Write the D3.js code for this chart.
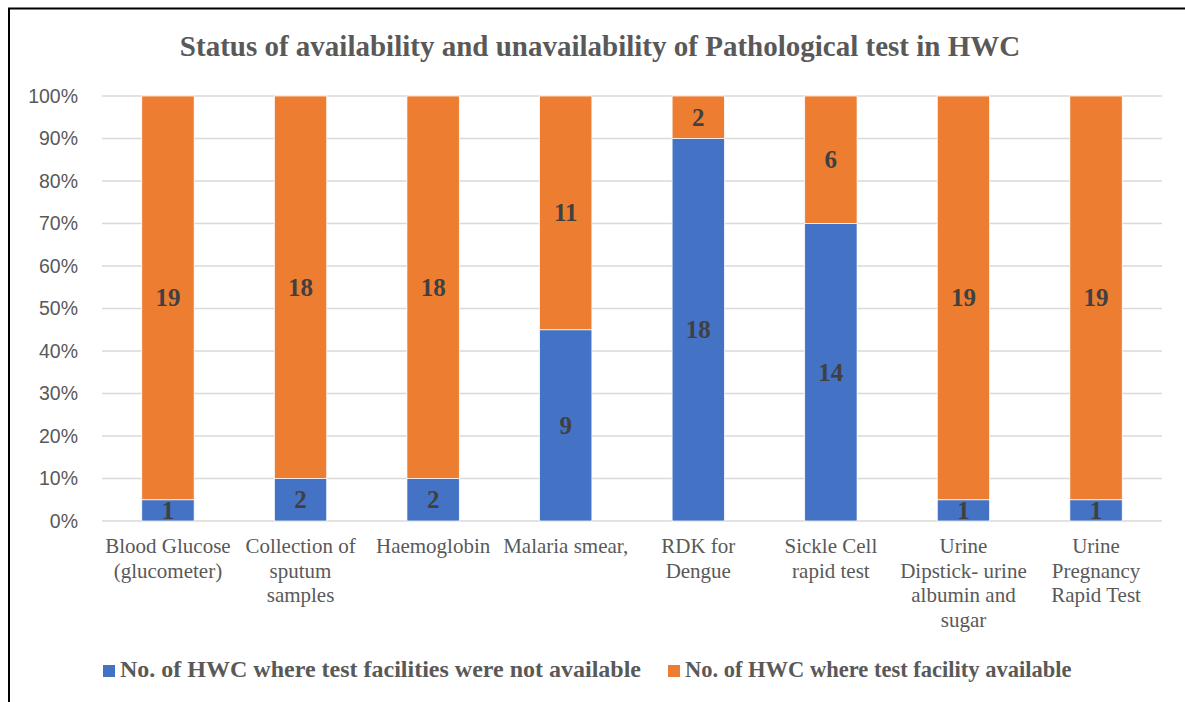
<!DOCTYPE html>
<html>
<head>
<meta charset="utf-8">
<script src="https://cdn.jsdelivr.net/npm/d3@7"></script>
<style>
  body { margin: 0; background: #fff; }
</style>
</head>
<body>
<svg width="1185" height="702"></svg>
<script>
// données
const categories = [
  ["Blood Glucose", "(glucometer)"],
  ["Collection of", "sputum", "samples"],
  ["Haemoglobin"],
  ["Malaria smear,"],
  ["RDK for", "Dengue"],
  ["Sickle Cell", "rapid test"],
  ["Urine", "Dipstick- urine", "albumin and", "sugar"],
  ["Urine", "Pregnancy", "Rapid Test"]
];
const notAvailable = [1, 2, 2, 9, 18, 14, 1, 1];
const available = [19, 18, 18, 11, 2, 6, 19, 19];
const seriesNames = [
  "No. of HWC where test facilities were not available",
  "No. of HWC where test facility available"
];
const colors = ["#4472C4", "#ED7D31"];
const yTicks = [0, 0.1, 0.2, 0.3, 0.4, 0.5, 0.6, 0.7, 0.8, 0.9, 1];

const serif = "'Liberation Serif', 'Times New Roman', serif";
const sans = "'Liberation Sans', Arial, sans-serif";

const svg = d3.select("svg");

// cadre
svg.append("path")
  .attr("d", "M9,702 V8.5 H1185")
  .attr("fill", "none")
  .attr("stroke", "#000")
  .attr("stroke-width", 2);

const plotLeft = 102, plotRight = 1162, plotTop = 96, plotBottom = 521;

const x = d3.scaleBand().domain(d3.range(categories.length)).range([plotLeft, plotRight])
  .paddingInner(0.605).paddingOuter(0.3);
const y = d3.scaleLinear().domain([0, 1]).range([plotBottom, plotTop]);

svg.append("text")
  .attr("x", 600).attr("y", 56)
  .attr("text-anchor", "middle")
  .attr("font-family", serif)
  .attr("font-weight", "bold")
  .attr("font-size", 29)
  .attr("fill", "#595959")
  .text("Status of availability and unavailability of Pathological test in HWC");

// grille
svg.append("g").selectAll("line").data(yTicks).enter().append("line")
  .attr("x1", plotLeft).attr("x2", plotRight)
  .attr("y1", (d) => y(d)).attr("y2", (d) => y(d))
  .attr("stroke", "#d9d9d9").attr("stroke-width", 1.5);

const yAxis = d3.axisLeft(y).tickValues(yTicks).tickFormat(d3.format(".0%")).tickSize(0).tickPadding(24);
const ya = svg.append("g").attr("transform", "translate(" + plotLeft + ",0)").call(yAxis);
ya.select(".domain").remove();
ya.selectAll("text")
  .attr("font-family", sans)
  .attr("font-size", 19.5)
  .attr("fill", "#595959");

// empilement
const rows = categories.map((c, i) => {
  const t = notAvailable[i] + available[i];
  return { i: i, a: notAvailable[i], b: available[i], t: t };
});
const stacked = [
  rows.map((r) => ({ i: r.i, y0: 0, y1: r.a / r.t, v: r.a })),
  rows.map((r) => ({ i: r.i, y0: r.a / r.t, y1: 1, v: r.b }))
];

stacked.forEach((s, k) => {
  svg.append("g").selectAll("rect").data(s).enter().append("rect")
    .attr("x", (d) => x(d.i))
    .attr("width", x.bandwidth())
    .attr("y", (d) => y(d.y1))
    .attr("height", (d) => y(d.y0) - y(d.y1))
    .attr("fill", colors[k])
    .attr("stroke", "#fff").attr("stroke-width", 0.75);

  svg.append("g").selectAll("text").data(s).enter().append("text")
    .attr("x", (d) => x(d.i) + x.bandwidth() / 2)
    .attr("y", (d) => (y(d.y0) + y(d.y1)) / 2 + 8.5)
    .attr("text-anchor", "middle")
    .attr("font-family", serif)
    .attr("font-weight", "bold")
    .attr("font-size", 25)
    .attr("fill", "#404040")
    .text((d) => d.v);
});

// étiquettes x
const xl = svg.append("g").selectAll("text").data(categories).enter().append("text")
  .attr("text-anchor", "middle")
  .attr("font-family", serif)
  .attr("font-size", 21)
  .attr("fill", "#595959");
xl.selectAll("tspan").data((d, i) => d.map((l) => ({ l: l, i: i }))).enter().append("tspan")
  .attr("x", (d) => x(d.i) + x.bandwidth() / 2)
  .attr("y", (d, j) => 553 + j * 24.5)
  .text((d) => d.l);

// légende
const legX = [103, 668];
const legSize = [24, 22.5];
seriesNames.forEach((n, k) => {
  svg.append("rect").attr("x", legX[k]).attr("y", 665).attr("width", 12).attr("height", 12).attr("fill", colors[k]);
  svg.append("text")
    .attr("x", legX[k] + 17).attr("y", 677)
    .attr("font-family", serif)
    .attr("font-weight", "bold")
    .attr("font-size", legSize[k])
    .attr("fill", "#595959")
    .text(n);
});
</script>
</body>
</html>
